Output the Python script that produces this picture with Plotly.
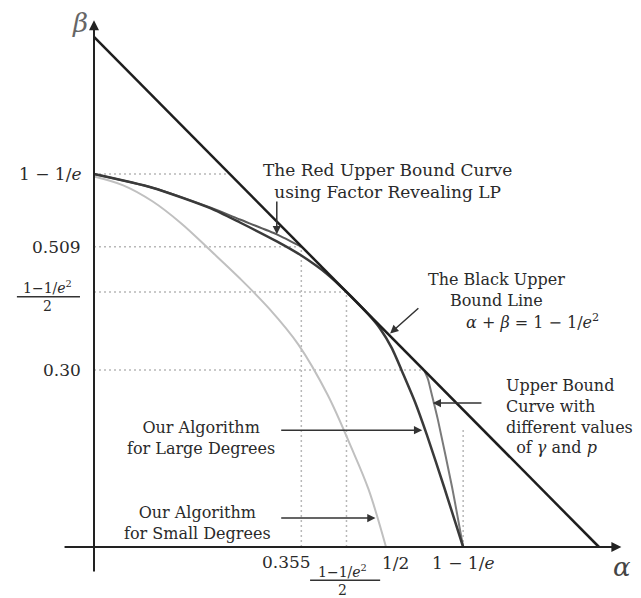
import numpy as np
import plotly.graph_objects as go

E1 = 1 - 1/np.e            # 1 - 1/e
E2 = 1 - 1/np.e**2         # 1 - 1/e^2
H2 = E2 / 2                # (1 - 1/e^2)/2

# Black upper bound line  alpha + beta = 1 - 1/e^2
line_alpha = [0.0, E2]
line_beta = [E2, 0.0]

# Red upper bound curve (factor revealing LP)
red_alpha = [0.0, 0.10, 0.20, 0.25, 0.313, 0.355]
red_beta = [E1, 0.609, 0.575, 0.555, 0.530, 0.509]

# Our algorithm for large degrees
large_alpha = [0.0, 0.10, 0.20, 0.25, 0.313, 0.355, 0.40, H2, 0.47, 0.49, 0.51, 0.53, 0.55, 0.57, 0.60, E1]
large_beta = [E1, 0.609, 0.574, 0.550, 0.518, 0.494, 0.462, H2, 0.394, 0.370, 0.337, 0.292, 0.245, 0.190, 0.100, 0.0]

# Upper bound curve with different values of gamma and p
gp_alpha = [0.566, 0.572, 0.578, 0.589, 0.613, E1]
gp_beta = [0.298, 0.284, 0.260, 0.215, 0.102, 0.0]

# Our algorithm for small degrees
small_alpha = [0.0, 0.05, 0.10, 0.15, 0.20, 0.25, 0.30, 0.35, 0.40, 0.44, 0.47, 0.50]
small_beta = [0.628, 0.613, 0.586, 0.548, 0.502, 0.455, 0.404, 0.343, 0.258, 0.170, 0.098, 0.0]

# Dotted guide lines: (value, extent)
guide_h_vals = [E1, 0.509, H2, 0.30]
guide_h_ends = [0.233, 0.355, H2, 0.565]
guide_v_vals = [0.355, H2, E1]
guide_v_ends = [0.509, H2, 0.20]

FONT = "DejaVu Serif"
TXT = "#2a2a2a"
FS = 17

fig = go.Figure()

for v, e in zip(guide_h_vals, guide_h_ends):
    fig.add_trace(go.Scatter(x=[0, e], y=[v, v], mode="lines",
                             line=dict(color="#b8b8b8", width=1.5, dash="2px,3px")))
for v, e in zip(guide_v_vals, guide_v_ends):
    fig.add_trace(go.Scatter(x=[v, v], y=[0, e], mode="lines",
                             line=dict(color="#b8b8b8", width=1.5, dash="2px,3px")))

fig.add_trace(go.Scatter(x=small_alpha, y=small_beta, mode="lines", line_shape="spline",
                         line=dict(color="#c0c0c0", width=2, smoothing=1.0)))
fig.add_trace(go.Scatter(x=gp_alpha, y=gp_beta, mode="lines", line_shape="spline",
                         line=dict(color="#7a7a7a", width=2, smoothing=0.6)))
fig.add_trace(go.Scatter(x=red_alpha, y=red_beta, mode="lines", line_shape="spline",
                         line=dict(color="#5a5a5a", width=2, smoothing=0.6)))
fig.add_trace(go.Scatter(x=large_alpha, y=large_beta, mode="lines", line_shape="spline",
                         line=dict(color="#3a3a3a", width=2.5, smoothing=0.6)))
fig.add_trace(go.Scatter(x=line_alpha, y=line_beta, mode="lines",
                         line=dict(color="#1e1e1e", width=2.5)))

ann = []
ann.append(dict(x=0.903, y=0, ax=-0.053, ay=0, xref="x", yref="y", axref="x", ayref="y",
                text="", showarrow=True, arrowhead=2, arrowsize=1, arrowwidth=2, arrowcolor="#222"))
ann.append(dict(x=0, y=0.893, ax=0, ay=-0.044, xref="x", yref="y", axref="x", ayref="y",
                text="", showarrow=True, arrowhead=2, arrowsize=1, arrowwidth=2, arrowcolor="#222"))

def label(x, y, text, size=FS, xanchor="center", yanchor="middle", align="center", color=TXT, family=FONT):
    ann.append(dict(x=x, y=y, xref="x", yref="y", text=text, showarrow=False,
                    xanchor=xanchor, yanchor=yanchor, align=align,
                    font=dict(family=family, size=size, color=color)))

def arrow(x0, y0, x1, y1):
    ann.append(dict(x=x1, y=y1, ax=x0, ay=y0, xref="x", yref="y", axref="x", ayref="y",
                    text="", showarrow=True, arrowhead=2, arrowsize=1.1, arrowwidth=1.5,
                    arrowcolor="#333"))

FRAC = "1−1/<i>e</i><sup>2</sup><br>2"

# axis titles
label(0.904, -0.034, "<i>α</i>", size=26, color="#444")
label(-0.024, 0.888, "<i>β</i>", size=26, color="#666")

# y tick labels
label(-0.019, E1, "1 − 1/<i>e</i>", xanchor="right")
label(-0.019, 0.509, "0.509", xanchor="right")
label(-0.019, 0.30, "0.30", xanchor="right")
label(-0.079, 0.4254, FRAC, size=14)

# x tick labels
label(0.330, -0.025, "0.355")
label(0.425, -0.0559, FRAC, size=14)
label(0.517, -0.027, "1/2")
label(0.632, -0.027, "1 − 1/<i>e</i>")

# annotations
label(0.503, 0.620, "The Red Upper Bound Curve<br>using Factor Revealing LP")
arrow(0.313, 0.588, 0.313, 0.530)

label(0.690, 0.435, "The Black Upper<br>Bound Line", size=16)
label(0.750, 0.383, "<i>α</i> + <i>β</i> = 1 − 1/<i>e</i><sup>2</sup>", size=16)
arrow(0.558, 0.407, 0.507, 0.362)

label(0.702, 0.222, "Upper Bound<br>Curve with<br>different values<br>  of <i>γ</i> and <i>p</i>",
      size=16, xanchor="left", align="left")
arrow(0.666, 0.244, 0.580, 0.244)

label(0.183, 0.185, "Our Algorithm<br>for Large Degrees", size=16)
arrow(0.318, 0.198, 0.562, 0.198)

label(0.178, 0.040, "Our Algorithm<br>for Small Degrees", size=16)
arrow(0.318, 0.049, 0.482, 0.049)

# fraction bars
shapes = [
    dict(type="line", xref="x", yref="y", x0=-0.132, x1=-0.024, y0=0.424, y1=0.424,
         line=dict(color="#333", width=1.5)),
    dict(type="line", xref="x", yref="y", x0=0.370, x1=0.490, y0=-0.0565, y1=-0.0565,
         line=dict(color="#333", width=1.5)),
]

# page body has an 8px margin, so shift the data window accordingly
fig.update_layout(
    width=641, height=598, autosize=False,
    margin=dict(l=0, r=0, t=0, b=0),
    paper_bgcolor="white", plot_bgcolor="white",
    showlegend=False,
    xaxis=dict(range=[-0.14726, 0.95034], visible=False, fixedrange=True),
    yaxis=dict(range=[-0.1, 0.91356], visible=False, fixedrange=True),
    annotations=ann, shapes=shapes,
)

fig.write_html("out.html")
